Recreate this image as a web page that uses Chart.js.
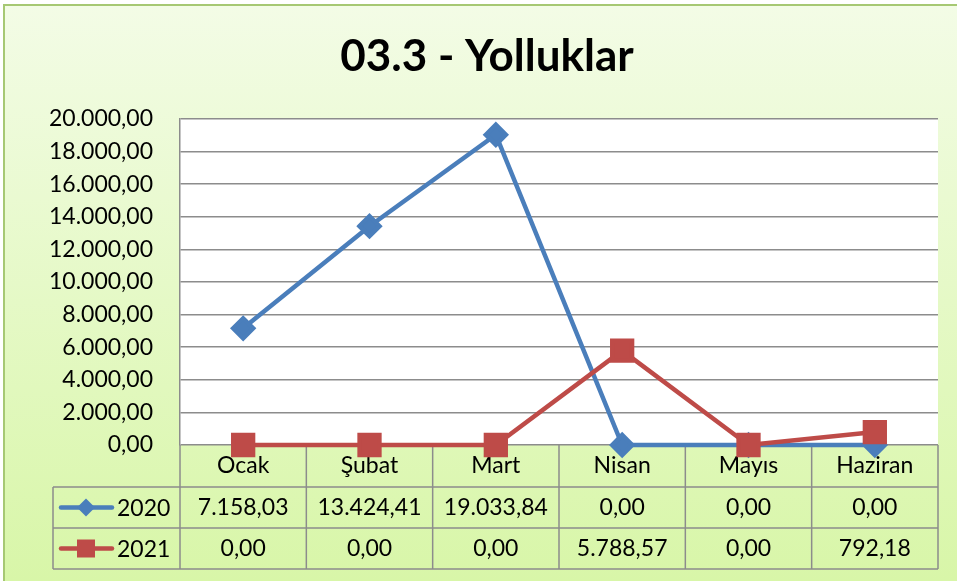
<!DOCTYPE html>
<html>
<head>
<meta charset="utf-8">
<script src="https://cdn.jsdelivr.net/npm/chart.js@4/dist/chart.umd.min.js"></script>
<style>
  html, body { margin: 0; padding: 0; background: #fff; }
  #wrap { width: 957px; height: 581px; }
</style>
</head>
<body>
<div id="wrap"><canvas id="cv" width="957" height="581"></canvas></div>
<script>
// data
const chartTitle = '03.3 - Yolluklar';
const months = ['Ocak', 'Şubat', 'Mart', 'Nisan', 'Mayıs', 'Haziran'];
const seriesNames = ['2020', '2021'];
const values2020 = [7158.03, 13424.41, 19033.84, 0, 0, 0];
const values2021 = [0, 0, 0, 5788.57, 0, 792.18];
const yMin = 0, yMax = 20000, yStep = 2000;

const blue = '#4a7ebb';
const red = '#be4b48';
const gridCol = '#8c8c8c';
const fontFam = 'Lato, "Open Sans", sans-serif';
const textSize = 23;

// turkish style number: 13.424,41
function trNum(v) {
  let parts = Math.abs(v).toFixed(2).split('.');
  let intPart = parts[0].replace(/\B(?=(\d{3})+(?!\d))/g, '.');
  return (v < 0 ? '-' : '') + intPart + ',' + parts[1];
}

const frame = {
  id: 'frame',
  beforeDraw(chart) {
    const ctx = chart.ctx;
    const a = chart.chartArea;
    ctx.save();
    ctx.fillStyle = '#ffffff';
    ctx.fillRect(0, 0, chart.width, chart.height);
    let g = ctx.createLinearGradient(0, 5, 0, chart.height);
    g.addColorStop(0, '#f3fce6');
    g.addColorStop(1, '#d8f6a8');
    ctx.fillStyle = g;
    ctx.fillRect(4, 5, chart.width, chart.height);
    ctx.strokeStyle = '#a6c873';
    ctx.lineWidth = 2;
    ctx.beginPath();
    ctx.moveTo(4, chart.height);
    ctx.lineTo(4, 5);
    ctx.lineTo(chart.width, 5);
    ctx.stroke();
    // plot background
    ctx.fillStyle = '#ffffff';
    ctx.fillRect(a.left, a.top, a.right - a.left, a.bottom - a.top);
    // title
    ctx.fillStyle = '#000000';
    ctx.font = 'bold 44px ' + fontFam;
    ctx.textAlign = 'center';
    ctx.textBaseline = 'middle';
    ctx.fillText(chartTitle, 487, 57);
    ctx.restore();
  }
};

// data table under the plot, drawn before the lines so markers sit on top
const dataTable = {
  id: 'dataTable',
  beforeDatasetsDraw(chart) {
    const ctx = chart.ctx;
    const xs = chart.scales.x;
    const a = chart.chartArea;
    const colW = (a.right - a.left) / months.length;
    const rowTop = a.bottom;
    const rows = [rowTop + 42, rowTop + 83, rowTop + 124];
    const keyLeft = 53;
    ctx.save();
    ctx.strokeStyle = gridCol;
    ctx.lineWidth = 1.5;
    ctx.beginPath();
    for (let i = 0; i <= months.length; i++) {
      let x = a.left + i * colW;
      ctx.moveTo(x, rowTop);
      ctx.lineTo(x, rows[2]);
    }
    ctx.moveTo(keyLeft, rows[0]);
    ctx.lineTo(keyLeft, rows[2]);
    for (let r = 0; r < 3; r++) {
      ctx.moveTo(keyLeft, rows[r]);
      ctx.lineTo(a.right, rows[r]);
    }
    ctx.stroke();

    ctx.fillStyle = '#000';
    ctx.font = textSize + 'px ' + fontFam;
    ctx.textAlign = 'center';
    ctx.textBaseline = 'middle';
    months.forEach((m, i) => {
      let x = xs.getPixelForValue(i);
      ctx.fillText(m, x, (rowTop + rows[0]) / 2);
      ctx.fillText(trNum(values2020[i]), x, (rows[0] + rows[1]) / 2);
      ctx.fillText(trNum(values2021[i]), x, (rows[1] + rows[2]) / 2);
    });

    // legend keys
    const keys = [
      { name: seriesNames[0], col: blue, y: (rows[0] + rows[1]) / 2, shape: 'diamond' },
      { name: seriesNames[1], col: red, y: (rows[1] + rows[2]) / 2, shape: 'square' }
    ];
    keys.forEach(k => {
      ctx.strokeStyle = k.col;
      ctx.fillStyle = k.col;
      ctx.lineWidth = 4.5;
      ctx.lineCap = 'round';
      ctx.beginPath();
      ctx.moveTo(61, k.y);
      ctx.lineTo(112, k.y);
      ctx.stroke();
      ctx.beginPath();
      if (k.shape === 'diamond') {
        ctx.moveTo(86, k.y - 9);
        ctx.lineTo(95, k.y);
        ctx.lineTo(86, k.y + 9);
        ctx.lineTo(77, k.y);
        ctx.closePath();
      } else {
        ctx.rect(77, k.y - 9, 18, 18);
      }
      ctx.fill();
      ctx.fillStyle = '#000';
      ctx.textAlign = 'left';
      ctx.fillText(k.name, 117, k.y + 1);
    });
    ctx.restore();
  }
};

new Chart(document.getElementById('cv'), {
  type: 'line',
  data: {
    labels: months,
    datasets: [{
      label: seriesNames[0],
      data: values2020,
      borderColor: blue,
      backgroundColor: blue,
      borderWidth: 4.5,
      pointStyle: 'rectRot',
      pointRadius: 10,
      pointHoverRadius: 10,
      tension: 0,
      clip: false,
      order: 1
    }, {
      label: seriesNames[1],
      data: values2021,
      borderColor: red,
      backgroundColor: red,
      borderWidth: 4.5,
      pointStyle: 'rect',
      pointRadius: 14,
      pointHoverRadius: 14,
      tension: 0,
      clip: false,
      order: 0
    }]
  },
  options: {
    responsive: false,
    animation: false,
    events: [],
    layout: { padding: { left: 0, top: 119, right: 19, bottom: 136 } },
    plugins: {
      legend: { display: false },
      title: { display: false },
      tooltip: { enabled: false }
    },
    scales: {
      x: {
        display: false,
        offset: true
      },
      y: {
        min: yMin,
        max: yMax,
        ticks: {
          stepSize: yStep,
          padding: 27,
          color: '#000',
          font: { family: fontFam, size: textSize },
          callback: v => trNum(v)
        },
        grid: { color: gridCol, lineWidth: 1.5, drawTicks: false },
        border: { color: gridCol, width: 1.5 },
        afterFit(scale) { scale.width = 180; }
      }
    }
  },
  plugins: [frame, dataTable]
});
</script>
</body>
</html>
